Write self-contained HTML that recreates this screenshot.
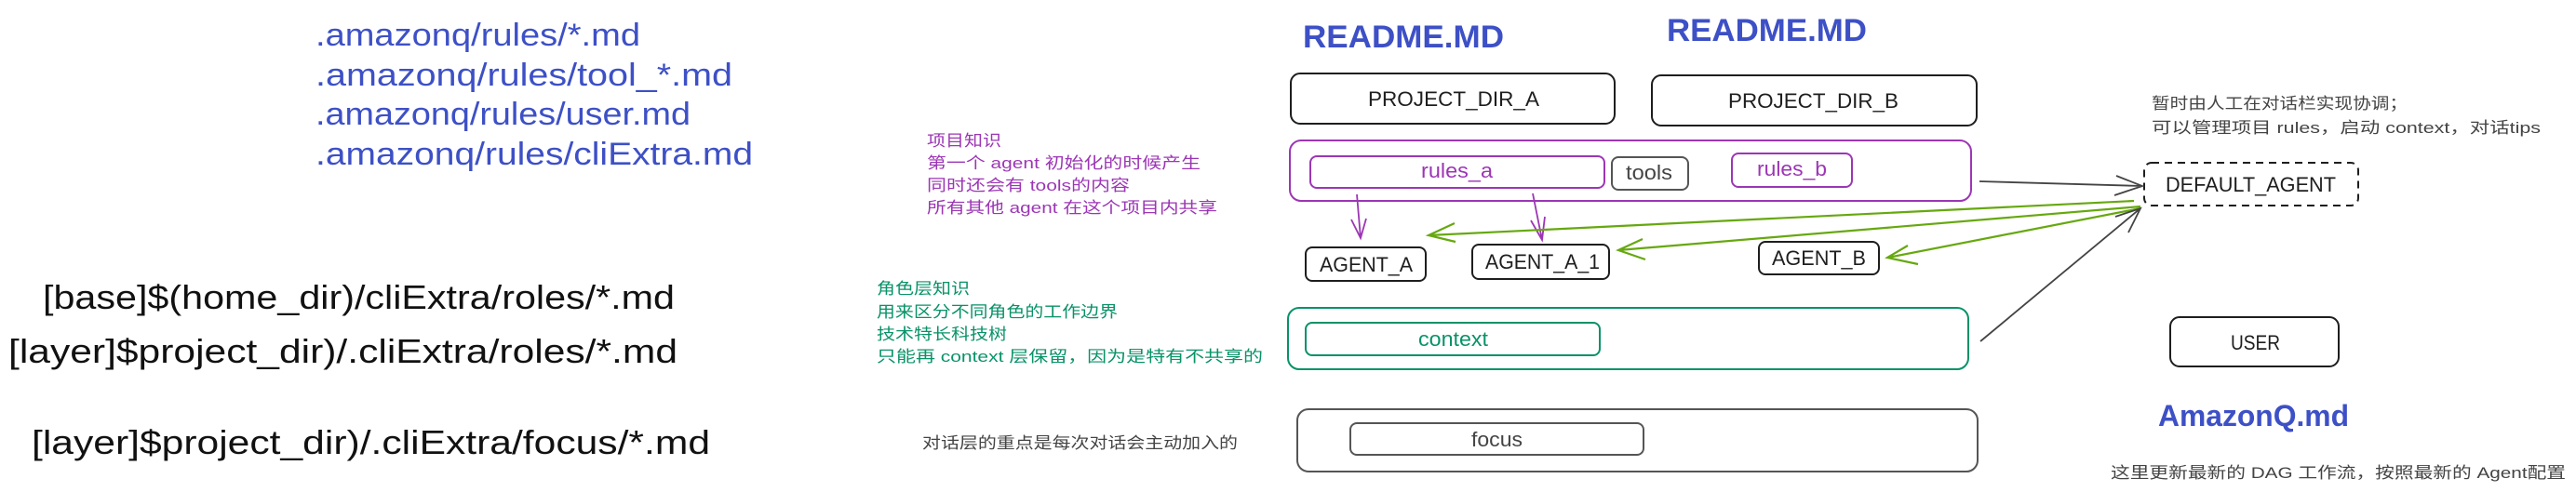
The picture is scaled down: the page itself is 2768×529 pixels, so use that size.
<!DOCTYPE html>
<html><head><meta charset="utf-8"><style>
html,body{margin:0;padding:0;background:#fff;width:2768px;height:529px;overflow:hidden}
svg{display:block}
text{font-family:"Liberation Sans","Noto Sans CJK SC",sans-serif}
</style></head><body>
<svg width="2768" height="529" viewBox="0 0 2768 529" xmlns="http://www.w3.org/2000/svg">
<g fill="#3d50c6" font-size="34">
<text x="339" y="49" textLength="349" lengthAdjust="spacingAndGlyphs">.amazonq/rules/*.md</text>
<text x="339" y="92" textLength="448" lengthAdjust="spacingAndGlyphs">.amazonq/rules/tool_*.md</text>
<text x="339" y="134" textLength="403" lengthAdjust="spacingAndGlyphs">.amazonq/rules/user.md</text>
<text x="339" y="177" textLength="470" lengthAdjust="spacingAndGlyphs">.amazonq/rules/cliExtra.md</text>
</g>
<g fill="#111" font-size="36">
<text x="46" y="332" textLength="679" lengthAdjust="spacingAndGlyphs">[base]$(home_dir)/cliExtra/roles/*.md</text>
<text x="9" y="390" textLength="719" lengthAdjust="spacingAndGlyphs">[layer]$project_dir)/.cliExtra/roles/*.md</text>
<text x="34" y="488" textLength="729" lengthAdjust="spacingAndGlyphs">[layer]$project_dir)/.cliExtra/focus/*.md</text>
</g>
<g fill="#9c36b5" font-size="17">
<text x="996" y="157" textLength="80" lengthAdjust="spacingAndGlyphs">项目知识</text>
<text x="996" y="181" textLength="294" lengthAdjust="spacingAndGlyphs">第一个 agent 初始化的时候产生</text>
<text x="996" y="205" textLength="218" lengthAdjust="spacingAndGlyphs">同时还会有 tools的内容</text>
<text x="996" y="229" textLength="312" lengthAdjust="spacingAndGlyphs">所有其他 agent 在这个项目内共享</text>
</g>
<g fill="#099268" font-size="17">
<text x="942" y="316" textLength="100" lengthAdjust="spacingAndGlyphs">角色层知识</text>
<text x="942" y="341" textLength="259" lengthAdjust="spacingAndGlyphs">用来区分不同角色的工作边界</text>
<text x="942" y="365" textLength="140" lengthAdjust="spacingAndGlyphs">技术特长科技树</text>
<text x="942" y="389" textLength="415" lengthAdjust="spacingAndGlyphs">只能再 context 层保留，因为是特有不共享的</text>
</g>
<text x="991" y="482" font-size="17" fill="#444" textLength="339" lengthAdjust="spacingAndGlyphs">对话层的重点是每次对话会主动加入的</text>

<g fill="#3d50c6" font-size="34" font-weight="bold">
<text x="1400" y="51" textLength="216" lengthAdjust="spacingAndGlyphs">README.MD</text>
<text x="1791" y="44" textLength="215" lengthAdjust="spacingAndGlyphs">README.MD</text>
</g>

<g fill="none" stroke-width="2">
<rect x="1387" y="79" width="348" height="54" rx="10" stroke="#1e1e1e"/>
<rect x="1775" y="81" width="349" height="54" rx="10" stroke="#1e1e1e"/>
<rect x="1386" y="151" width="732" height="65" rx="12" stroke="#9c36b5"/>
<rect x="1408" y="168" width="316" height="34" rx="7" stroke="#9c36b5"/>
<rect x="1732" y="169" width="82" height="35" rx="7" stroke="#555"/>
<rect x="1861" y="165" width="129" height="36" rx="7" stroke="#9c36b5"/>
<rect x="1403" y="266" width="129" height="36" rx="7" stroke="#1e1e1e"/>
<rect x="1582" y="263" width="147" height="37" rx="7" stroke="#1e1e1e"/>
<rect x="1890" y="260" width="129" height="35" rx="7" stroke="#1e1e1e"/>
<rect x="1384" y="331" width="731" height="66" rx="12" stroke="#099268"/>
<rect x="1403" y="347" width="316" height="35" rx="7" stroke="#099268"/>
<rect x="1394" y="440" width="731" height="67" rx="12" stroke="#555"/>
<rect x="1451" y="455" width="315" height="34" rx="7" stroke="#555"/>
<rect x="2304" y="175" width="230" height="46" rx="8" stroke="#1e1e1e" stroke-dasharray="8 6"/>
<rect x="2332" y="341" width="181" height="53" rx="10" stroke="#1e1e1e"/>
</g>

<g font-size="22">
<text x="1470" y="114" fill="#1e1e1e" textLength="184" lengthAdjust="spacingAndGlyphs">PROJECT_DIR_A</text>
<text x="1857" y="116" fill="#1e1e1e" textLength="183" lengthAdjust="spacingAndGlyphs">PROJECT_DIR_B</text>
<text x="1527" y="191" fill="#9c36b5" textLength="77" lengthAdjust="spacingAndGlyphs">rules_a</text>
<text x="1747" y="193" fill="#444" textLength="50" lengthAdjust="spacingAndGlyphs">tools</text>
<text x="1888" y="189" fill="#9c36b5" textLength="75" lengthAdjust="spacingAndGlyphs">rules_b</text>
<text x="1418" y="292" fill="#1e1e1e" textLength="100" lengthAdjust="spacingAndGlyphs">AGENT_A</text>
<text x="1596" y="289" fill="#1e1e1e" textLength="123" lengthAdjust="spacingAndGlyphs">AGENT_A_1</text>
<text x="1904" y="285" fill="#1e1e1e" textLength="101" lengthAdjust="spacingAndGlyphs">AGENT_B</text>
<text x="1524" y="372" fill="#099268" textLength="75" lengthAdjust="spacingAndGlyphs">context</text>
<text x="1581" y="480" fill="#444" textLength="55" lengthAdjust="spacingAndGlyphs">focus</text>
<text x="2327" y="206" fill="#1e1e1e" textLength="183" lengthAdjust="spacingAndGlyphs">DEFAULT_AGENT</text>
<text x="2397" y="376" fill="#1e1e1e" textLength="53" lengthAdjust="spacingAndGlyphs">USER</text>
</g>

<g fill="#444" font-size="17">
<text x="2312" y="117" textLength="275" lengthAdjust="spacingAndGlyphs">暂时由人工在对话栏实现协调；</text>
<text x="2312" y="143" textLength="418" lengthAdjust="spacingAndGlyphs">可以管理项目 rules，启动 context，对话tips</text>
<text x="2268" y="514" textLength="489" lengthAdjust="spacingAndGlyphs">这里更新最新的 DAG 工作流，按照最新的 Agent配置</text>
</g>
<text x="2319" y="458" fill="#3d50c6" font-size="32" font-weight="bold" textLength="205" lengthAdjust="spacingAndGlyphs">AmazonQ.md</text>

<g stroke="#9c36b5" stroke-width="1.8" fill="none">
<path d="M1458 209 L1462 256 M1452 236 L1462 256 L1468 235"/>
<path d="M1647 208 L1657 258 M1645 237 L1657 258 L1660 233"/>
</g>
<g stroke="#66a80f" stroke-width="2.2" fill="none">
<path d="M2293 216 L1535 253 M1563 240 L1535 253 L1564 260"/>
<path d="M2300 222 L1739 269 M1765 257 L1739 269 L1768 279"/>
<path d="M2300 224 L2028 277 M2050 264 L2028 277 L2061 284"/>
</g>
<g stroke="#444" stroke-width="1.8" fill="none">
<path d="M2127 195 L2302 200 M2274 189 L2302 200 L2272 210"/>
<path d="M2128 367 L2300 224 M2287 250 L2300 224 L2273 233"/>
</g>
</svg>
</body></html>
